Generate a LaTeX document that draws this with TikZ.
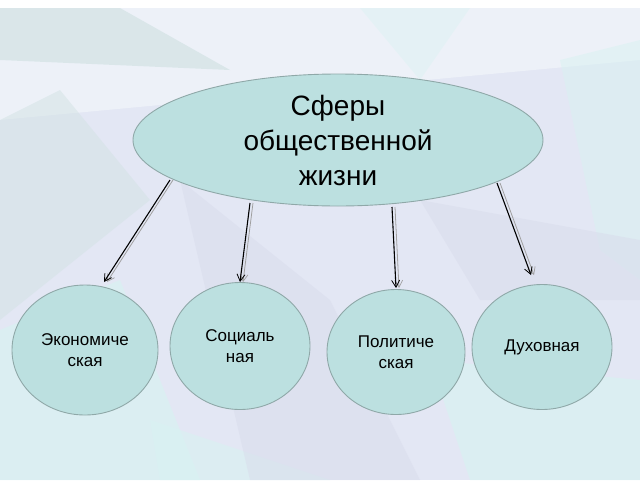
\documentclass[tikz,border=0pt]{standalone}
\usepackage{fontspec}
\setmainfont{Liberation Sans}
\usetikzlibrary{arrows.meta,shapes.geometric}
\definecolor{bgbase}{HTML}{E3E7F4}
\definecolor{bgcyan}{HTML}{D8F2F2}
\definecolor{bgteal}{HTML}{D2E2E4}
\definecolor{bglight}{HTML}{EDF1F8}
\definecolor{bglav}{HTML}{D9DCEC}
\definecolor{nodefill}{HTML}{BCE0E0}
\definecolor{nodeline}{HTML}{8FA8A8}
\definecolor{shadowgray}{HTML}{A0A0A0}
\tikzset{
  bubble/.style={ellipse, fill=nodefill, draw=nodeline, line width=0.9pt, inner sep=0pt, align=center, font=\fontsize{17}{21}\selectfont},
  topbubble/.style={bubble, font=\fontsize{28}{35}\selectfont},
  link/.style={draw=black, line width=1.1pt, -{Straight Barb[length=7pt,width=8pt,line width=0.8pt]}},
  linkshadow/.style={draw=shadowgray, line width=0.8pt, -{Straight Barb[length=7pt,width=8pt,line width=0.7pt]}},
}
\begin{document}
\begin{tikzpicture}[x=1pt,y=-1pt]
\useasboundingbox (0,0) rectangle (640,480);
% background
\fill[bgbase] (0,0) rectangle (640,480);
\fill[bglight] (0,8) -- (640,8) -- (640,60) -- (0,120) -- cycle;
\fill[bgteal,opacity=0.7] (0,8) -- (120,8) -- (230,70) -- (0,60) -- cycle;
\fill[bgteal,opacity=0.5] (0,120) -- (60,90) -- (150,200) -- (0,320) -- cycle;
\fill[bgcyan,opacity=0.7] (0,330) -- (120,280) -- (200,480) -- (0,480) -- cycle;
\fill[bgcyan,opacity=0.6] (150,420) -- (330,480) -- (160,480) -- cycle;
\fill[bglav,opacity=0.5] (180,180) -- (330,300) -- (420,480) -- (250,480) -- cycle;
\fill[bgcyan,opacity=0.7] (430,360) -- (640,380) -- (640,480) -- (470,480) -- cycle;
\fill[bgcyan,opacity=0.5] (560,60) -- (640,40) -- (640,280) -- (600,250) -- cycle;
\fill[bglav,opacity=0.5] (420,200) -- (640,240) -- (640,300) -- (480,300) -- cycle;
\fill[bgcyan,opacity=0.4] (360,8) -- (470,8) -- (420,80) -- cycle;
\fill[white] (0,0) rectangle (640,8);
% nodes
\node[topbubble, minimum width=410pt, minimum height=132pt] (top) at (338,140) {Сферы\\общественной\\жизни};
\node[bubble, minimum width=146pt, minimum height=130pt] (eco) at (85,350) {Экономиче\\ская};
\node[bubble, minimum width=140pt, minimum height=127pt] (soc) at (240,346) {Социаль\\ная};
\node[bubble, minimum width=138pt, minimum height=125pt] (pol) at (396,352) {Политиче\\ская};
\node[bubble, minimum width=140pt, minimum height=125pt] (duh) at (542,347) {Духовная};
% arrow end points
\coordinate (e1) at (170,180); \coordinate (e2) at (104,282);
\coordinate (s1) at (250,203); \coordinate (s2) at (240,282);
\coordinate (p1) at (392,207); \coordinate (p2) at (396,288);
\coordinate (d1) at (497,183); \coordinate (d2) at (531,275);
\foreach \a/\b in {e1/e2,s1/s2,p1/p2,d1/d2}{
  \draw[linkshadow] ([xshift=3pt]\a) -- ([xshift=3pt]\b);
  \draw[link] (\a) -- (\b);
}
\end{tikzpicture}
\end{document}
